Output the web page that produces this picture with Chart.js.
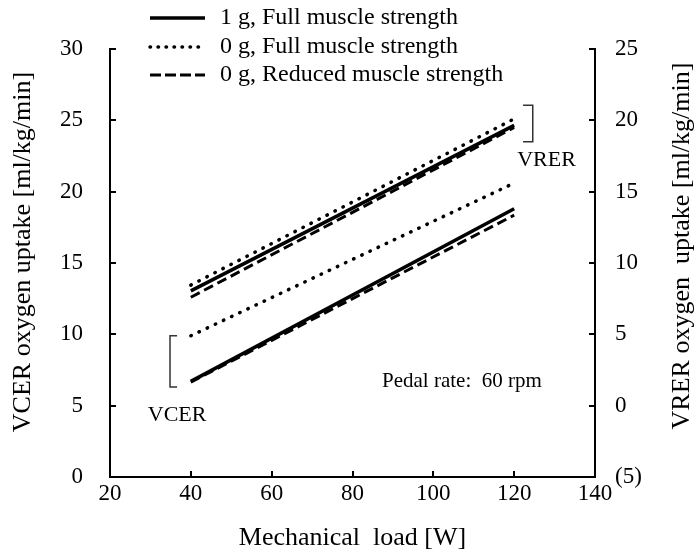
<!DOCTYPE html>
<html>
<head>
<meta charset="utf-8">
<title>Oxygen uptake vs mechanical load</title>
<script src="https://cdn.jsdelivr.net/npm/chart.js@4.4.0/dist/chart.umd.min.js"></script>
<style>
  html, body { margin: 0; padding: 0; background: #fff; }
  #chart { display: block; }
</style>
</head>
<body>
<canvas id="chart" width="694" height="554"></canvas>
<script>
// Mechanical load [W] at the two ends of each regression line
const loads = [40, 120];

// VCER oxygen uptake (left axis) [ml/kg/min]
const vcerFull1g = [6.7, 18.8];
const vcerFull0g = [9.9, 20.6];
const vcerReduced0g = [6.65, 18.35];

// VRER oxygen uptake (right axis) [ml/kg/min]
const vrerFull1g = [8.05, 19.65];
const vrerFull0g = [8.45, 20.1];
const vrerReduced0g = [7.6, 19.5];

const seriesNames = ['1 g, Full muscle strength', '0 g, Full muscle strength', '0 g, Reduced muscle strength'];

const xTicks = [20, 40, 60, 80, 100, 120, 140];
const leftTicks = [0, 5, 10, 15, 20, 25, 30];
const rightTicks = [-5, 0, 5, 10, 15, 20, 25];

const SERIF = "'Liberation Serif', 'Times New Roman', serif";

// line looks shared by the VCER / VRER pairs
const styles = [
    { borderWidth: 3.5, borderDash: [], borderCapStyle: 'butt' },
    { borderWidth: 3.5, borderDash: [0.5, 8.5], borderCapStyle: 'round' },
    { borderWidth: 3, borderDash: [10, 5], borderCapStyle: 'butt' }
];

function toPoints(ys) {
    return loads.map((x, i) => ({ x: x, y: ys[i] }));
}

function makeSet(label, ys, axis, style) {
    return Object.assign({
        label: label,
        data: toPoints(ys),
        yAxisID: axis,
        borderColor: '#000',
        backgroundColor: '#000',
        pointRadius: 0,
        tension: 0,
        fill: false
    }, style);
}

const datasets = [
    makeSet(seriesNames[0], vcerFull1g, 'y', styles[0]),
    makeSet(seriesNames[1], vcerFull0g, 'y', styles[1]),
    makeSet(seriesNames[2], vcerReduced0g, 'y', styles[2]),
    makeSet(seriesNames[0], vrerFull1g, 'y2', styles[0]),
    makeSet(seriesNames[1], vrerFull0g, 'y2', styles[1]),
    makeSet(seriesNames[2], vrerReduced0g, 'y2', styles[2])
];

// inward tick marks, legend, brackets and free text
const decorations = {
    id: 'decorations',
    afterDraw(chart) {
        const ctx = chart.ctx;
        const xs = chart.scales.x, ys = chart.scales.y, ys2 = chart.scales.y2;
        const area = chart.chartArea;
        ctx.save();

        // tick marks pointing into the plot
        ctx.strokeStyle = '#000';
        ctx.lineWidth = 2;
        ctx.beginPath();
        xTicks.forEach(v => {
            const px = Math.round(xs.getPixelForValue(v));
            ctx.moveTo(px, area.bottom);
            ctx.lineTo(px, area.bottom - 6);
        });
        leftTicks.forEach(v => {
            const py = Math.round(ys.getPixelForValue(v));
            ctx.moveTo(area.left, py);
            ctx.lineTo(area.left + 6, py);
        });
        rightTicks.forEach(v => {
            const py = Math.round(ys2.getPixelForValue(v));
            ctx.moveTo(area.right, py);
            ctx.lineTo(area.right - 6, py);
        });
        ctx.stroke();

        // legend
        ctx.fillStyle = '#000';
        ctx.font = '24px ' + SERIF;
        ctx.textBaseline = 'middle';
        ctx.textAlign = 'left';
        const rowY = [18, 47, 75];
        for (let i = 0; i < 3; i++) {
            const ds = chart.data.datasets[i];
            ctx.save();
            ctx.lineWidth = ds.borderWidth;
            ctx.lineCap = ds.borderCapStyle;
            ctx.setLineDash(i === 1 ? [0.5, 7.5] : i === 2 ? [11, 4] : []);
            ctx.beginPath();
            ctx.moveTo(150, rowY[i]);
            ctx.lineTo(205, rowY[i]);
            ctx.stroke();
            ctx.restore();
            ctx.fillText(ds.label, 220, rowY[i]);
        }

        // brackets grouping the VRER and VCER lines
        ctx.strokeStyle = '#333';
        ctx.lineWidth = 1.5;
        ctx.setLineDash([]);
        const bracket = (x, tipX, y1, y2) => {
            const px = xs.getPixelForValue(x), tx = xs.getPixelForValue(tipX);
            const p1 = ys.getPixelForValue(y1), p2 = ys.getPixelForValue(y2);
            ctx.beginPath();
            ctx.moveTo(tx, p1);
            ctx.lineTo(px, p1);
            ctx.lineTo(px, p2);
            ctx.lineTo(tx, p2);
            ctx.stroke();
        };
        bracket(124.6, 122.2, 26.05, 23.5);
        bracket(34.85, 36.6, 9.9, 6.3);

        ctx.font = '22px ' + SERIF;
        ctx.textAlign = 'center';
        ctx.fillText('VRER', xs.getPixelForValue(128), ys.getPixelForValue(22.2));
        ctx.fillText('VCER', xs.getPixelForValue(36.6), ys.getPixelForValue(4.35));
        ctx.textAlign = 'left';
        ctx.font = '21px ' + SERIF;
        ctx.fillText('Pedal rate:  60 rpm', xs.getPixelForValue(87.3), ys.getPixelForValue(6.66));

        // axis titles
        ctx.font = '26px ' + SERIF;
        ctx.textAlign = 'center';
        ctx.fillText('Mechanical  load [W]', (area.left + area.right) / 2, 538);
        ctx.save();
        ctx.translate(23, 252);
        ctx.rotate(-Math.PI / 2);
        ctx.fillText('VCER oxygen uptake [ml/kg/min]', 0, 0);
        ctx.restore();
        ctx.save();
        ctx.translate(682, 246);
        ctx.rotate(-Math.PI / 2);
        ctx.fillText('VRER oxygen  uptake [ml/kg/min]', 0, 0);
        ctx.restore();

        ctx.restore();
    }
};

const tickFont = { family: SERIF, size: 23 };

new Chart(document.getElementById('chart').getContext('2d'), {
    type: 'line',
    data: { datasets: datasets },
    options: {
        responsive: false,
        animation: false,
        devicePixelRatio: 1,
        layout: { padding: { top: 49, left: 0, right: 0, bottom: 0 } },
        plugins: {
            legend: { display: false },
            tooltip: { enabled: false }
        },
        scales: {
            x: {
                type: 'linear',
                min: 20,
                max: 140,
                afterBuildTicks: s => { s.ticks = xTicks.map(v => ({ value: v })); },
                afterFit: s => { s.height = 77; },
                grid: { display: false, drawTicks: false },
                border: { display: true, color: '#000', width: 2 },
                ticks: { color: '#000', font: tickFont, padding: 3, maxRotation: 0 }
            },
            y: {
                type: 'linear',
                position: 'left',
                min: 0,
                max: 30,
                afterBuildTicks: s => { s.ticks = leftTicks.map(v => ({ value: v })); },
                afterFit: s => { s.width = 110; },
                grid: { display: false, drawTicks: false },
                border: { display: true, color: '#000', width: 2 },
                ticks: { color: '#000', font: tickFont, padding: 27 }
            },
            y2: {
                type: 'linear',
                position: 'right',
                min: -5,
                max: 25,
                afterBuildTicks: s => { s.ticks = rightTicks.map(v => ({ value: v })); },
                afterFit: s => { s.width = 99; },
                grid: { display: false, drawTicks: false },
                border: { display: true, color: '#000', width: 2 },
                ticks: {
                    color: '#000',
                    font: tickFont,
                    padding: 20,
                    callback: v => v < 0 ? '(' + Math.abs(v) + ')' : String(v)
                }
            }
        }
    },
    plugins: [decorations]
});
</script>
</body>
</html>
